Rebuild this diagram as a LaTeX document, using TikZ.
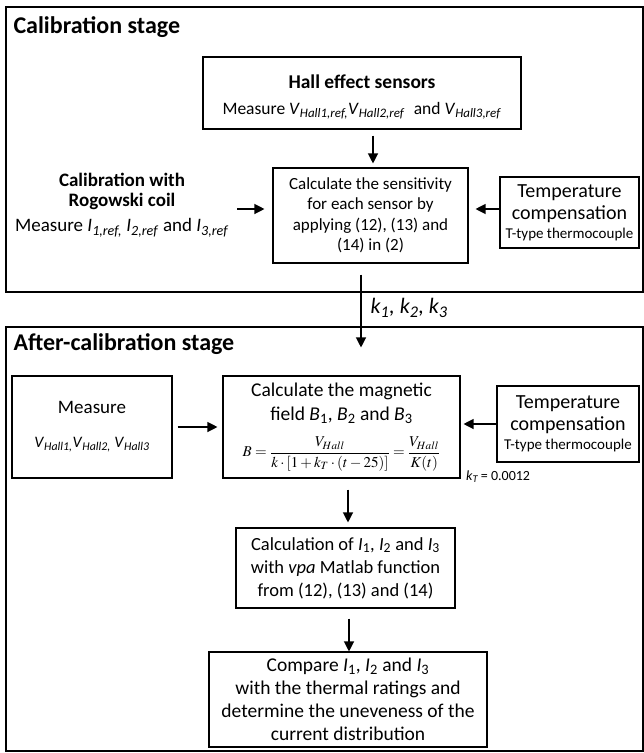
\documentclass[tikz,border=0pt]{standalone}
\usepackage{amsmath}
\usepackage{mathptmx}
\usepackage[no-math]{fontspec}
\setmainfont{Carlito}
\usetikzlibrary{positioning, arrows.meta}
\newcommand{\fsz}[2]{\fontsize{#1}{#2}\selectfont}
\newcommand{\vsub}[2]{\textit{#1}\textsubscript{\textit{#2}}}
\newcommand{\isub}[2]{\textit{#1}\textsubscript{#2}}
\tikzset{
    stagebox/.style={rectangle, draw, line width=1.4pt},
    stagetitle/.style={anchor=west, font=\bfseries\fsz{24}{28}},
    procbox/.style={rectangle, draw, line width=1.1pt, align=center, inner sep=2pt},
    arrow/.style={-{Triangle[length=10pt, width=10pt]}, line width=1.2pt},
}
\begin{document}
\begin{tikzpicture}[x=1pt, y=-1pt]
    \useasboundingbox (0,0) rectangle (644,753);
    % calibration stage
    \node[stagebox, minimum width=637pt, minimum height=285pt] (calib) at (324.5,149.5) {};
    \node[stagetitle] (calibtitle) at (10,27) {Calibration stage};
    \node[procbox, minimum width=318pt, minimum height=72pt, font=\fsz{17.5}{26}] (hall) at (362,93)
        {\rule{0pt}{22pt}{\bfseries\fsz{19.5}{26}Hall effect sensors}\\ Measure \vsub{V}{Hall1,ref,}\vsub{V}{Hall2,ref}\enspace and \vsub{V}{Hall3,ref}};
    \node[procbox, minimum width=195pt, minimum height=95pt, font=\fsz{17}{20.5}] (sens) at (370.5,215.5)
        {Calculate the sensitivity\\ for each sensor by\\ applying (12), (13) and\\ (14) in (2)};
    \node[procbox, minimum width=139pt, minimum height=71pt, font=\fsz{20}{22}] (tempcal) at (569.5,212.5)
        {Temperature\\ compensation\\[-3pt] {\fsz{15}{16}T-type thermocouple}};
    \node[align=center, font=\fsz{19}{20.5}] (rogowski) at (122,205)
        {\textbf{Calibration with}\\ \textbf{Rogowski coil}\\[4.5pt] Measure \vsub{I}{1,ref,} \vsub{I}{2,ref} and \vsub{I}{3,ref}};
    \coordinate (calrow) at (0,209);

    \draw[arrow, shorten <=5pt, shorten >=8pt] (rogowski.east |- calrow) -- (sens.west |- calrow);
    \draw[arrow, shorten >=7pt] (tempcal.west |- calrow) -- (sens.east |- calrow);
    \draw[arrow, shorten <=6pt, shorten >=4pt] ([xshift=2.5pt]sens.north |- hall.south) -- ([xshift=2.5pt]sens.north);

    % after-calibration stage
    \node[stagebox, minimum width=637pt, minimum height=424pt] (after) at (324.5,539) {};
    \node[stagetitle] (aftertitle) at (10,344) {After-calibration stage};
    \node[procbox, minimum width=160pt, minimum height=102pt, font=\fsz{19}{22}] (meas) at (92,427)
        {Measure\\[12pt] {\fsz{16}{22}\vsub{V}{Hall1,}\vsub{V}{Hall2,} \vsub{V}{Hall3}}};
    \node[procbox, minimum width=237pt, minimum height=102pt, font=\fsz{19.5}{24}] (magnet) at (341.5,427)
        {Calculate the magnetic\\ field \isub{B}{1}, \isub{B}{2} and \isub{B}{3}\\[12pt]
         {\fsz{15}{16}$B=\dfrac{V_{Hall}}{k\cdot[1+k_T\cdot(t-25)]}=\dfrac{V_{Hall}}{K(t)}$}};
    \node[procbox, minimum width=142pt, minimum height=76pt, font=\fsz{20}{22}] (tempafter) at (568,424)
        {Temperature\\ compensation\\[-3pt] {\fsz{15}{16}T-type thermocouple}};
    \node[anchor=west, font=\fsz{14}{16}] (ktcoef) at ([xshift=2pt, yshift=2pt]magnet.south east)
        {\vsub{k}{T}\,= 0.0012};
    \node[procbox, minimum width=219pt, minimum height=80pt, font=\fsz{18.5}{23}] (ical) at (345.5,568)
        {Calculation of \isub{I}{1}, \isub{I}{2} and \isub{I}{3}\\ with \textit{vpa} Matlab function\\ from (12), (13) and (14)};
    \node[procbox, minimum width=278pt, minimum height=95pt, font=\fsz{19.5}{23}] (compare) at (348,699.5)
        {Compare \isub{I}{1}, \isub{I}{2} and \isub{I}{3}\\ with the thermal ratings and\\ determine the uneveness of the\\ current distribution};

    % calibration result passed down
    \draw[arrow, shorten <=11pt, shorten >=28pt] ([xshift=-9.5pt]sens.south) -- ([xshift=-9.5pt]sens.south |- magnet.north);
    \node[anchor=west, font=\itshape\fsz{22}{24}] (kvals) at (367,308) {\vsub{k}{1}, \vsub{k}{2}, \vsub{k}{3}};

    \draw[arrow, shorten <=5pt, shorten >=5pt] (meas.east) -- (magnet.west);
    \draw[arrow, shorten >=3pt] (tempafter.west) -- (tempafter.west -| magnet.east);
    \draw[arrow, shorten <=11pt, shorten >=5pt] ([xshift=6.5pt]magnet.south) -- ([xshift=6.5pt]magnet.south |- ical.north);
    \draw[arrow, shorten <=10pt] ([xshift=3.5pt]ical.south) -- ([xshift=3.5pt]ical.south |- compare.north);
\end{tikzpicture}
\end{document}
